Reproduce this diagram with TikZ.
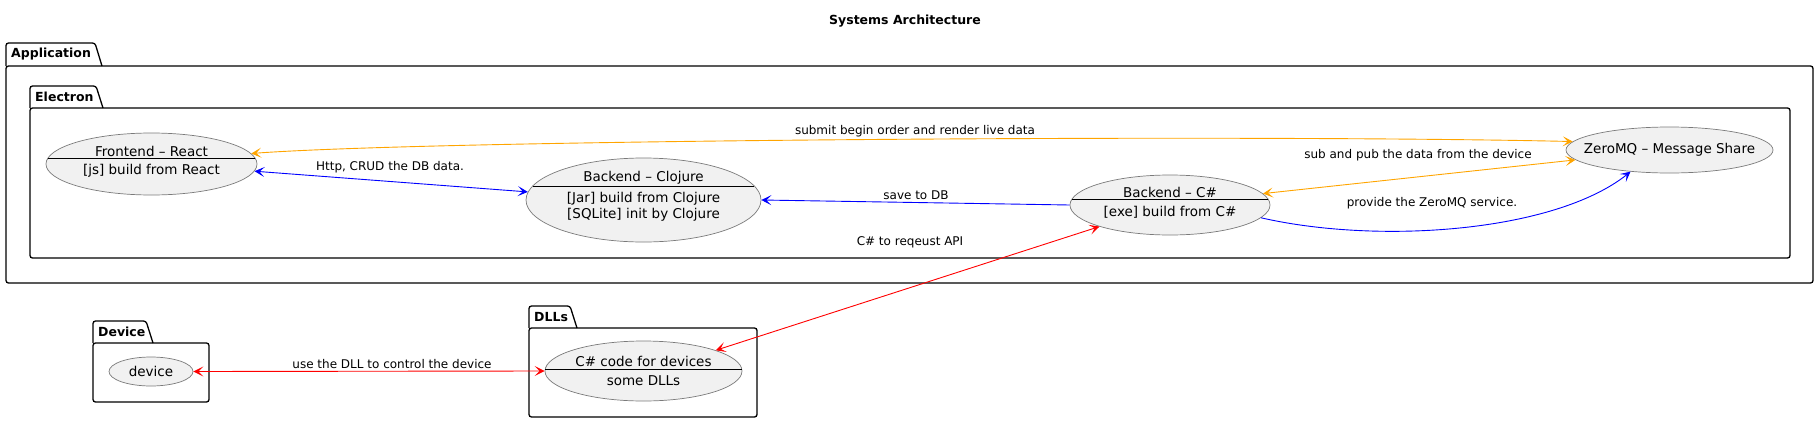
\documentclass[tikz,border=0pt]{standalone}
\usepackage{fontspec}
\setmainfont{DejaVu Sans}
\usetikzlibrary{arrows.meta,bending,positioning,calc,shapes.geometric}
\definecolor{ucfill}{HTML}{F1F1F1}
\definecolor{ucborder}{HTML}{7A7A7A}
\definecolor{linkorange}{HTML}{FFA500}
\definecolor{linkblue}{HTML}{0000FF}
\definecolor{linkred}{HTML}{FF0000}

% package frame: name, left, tab top, tab right, box top, right, bottom, title
\newcommand{\umlpkg}[8]{%
  \draw[pkgline] (#2,#5) -- (#2,#3) -- (#4,#3) -- (#4+7,#5);
  \draw[pkgline] (#2,#5) rectangle (#6,#7);
  \node (#1) [pkgtitle] at (#2+5,{(#3+#5)/2}) {#8};
}

\begin{document}
\begin{tikzpicture}[x=1pt,y=-1pt,
    umltip/.tip={Stealth[length=10pt,width=10pt,inset=5pt]},
    pkgline/.style={line width=1.3pt, rounded corners=2.5pt},
    pkgtitle/.style={anchor=west, inner sep=0pt, font=\bfseries\fontsize{12.5}{14}\selectfont},
    usecase/.style={ellipse, draw=ucborder, fill=ucfill, line width=0.7pt, inner sep=0pt},
    uctext/.style={inner sep=0pt, align=center, font=\fontsize{13.5}{16}\selectfont},
    sepline/.style={line width=1pt},
    link/.style={line width=0.9pt, umltip-umltip},
    oneway/.style={line width=0.9pt, -umltip},
    linklabel/.style={inner sep=0pt, font=\fontsize{12}{14}\selectfont}]
    \useasboundingbox (0,0) rectangle (1819,423);

    \node (title) [inner sep=0pt, font=\bfseries\fontsize{12.5}{14}\selectfont] at (905,21) {Systems Architecture};

    % packages
    \umlpkg{app}{6}{43}{95}{66}{1813}{283}{Application}
    \umlpkg{electron}{30}{86}{96}{108}{1790}{258}{Electron}
    \umlpkg{devpkg}{93}{321}{146}{343}{209}{402}{Device}
    \umlpkg{dllpkg}{529}{306}{570}{328}{757}{417}{DLLs}

    % use cases
    \node (fe) [usecase, minimum width=211pt, minimum height=62pt] at (151.5,164) {};
    \draw[sepline] ($(fe)+(-103.5,-6)$) -- ($(fe)+(103.5,-6)$);
    \node (fe-title) [uctext] at ($(fe)+(0,-13)$) {Frontend – React};
    \node (fe-body) [uctext] at ($(fe)+(0,7)$) {[js] build from React};

    \node (cl) [usecase, minimum width=235pt, minimum height=84pt] at (643.5,200) {};
    \draw[sepline] ($(cl)+(-110.8,-14)$) -- ($(cl)+(110.8,-14)$);
    \node (cl-title) [uctext] at ($(cl)+(0,-22)$) {Backend – Clojure};
    \node (cl-body) [uctext] at ($(cl)+(0,7)$) {[Jar] build from Clojure\\{}[SQLite] init by Clojure};

    \node (cs) [usecase, minimum width=200pt, minimum height=60pt] at (1170,205) {};
    \draw[sepline] ($(cs)+(-98,-6)$) -- ($(cs)+(98,-6)$);
    \node (cs-title) [uctext] at ($(cs)+(0,-13)$) {Backend – C\#};
    \node (cs-body) [uctext] at ($(cs)+(0,7)$) {[exe] build from C\#};

    \node (zmq) [usecase, minimum width=207pt, minimum height=46pt] at (1669.5,150) {};
    \node (zmq-title) [uctext] at (zmq) {ZeroMQ – Message Share};

    \node (dev) [usecase, minimum width=84pt, minimum height=29pt] at (151,371.5) {};
    \node (dev-title) [uctext] at (dev) {device};

    \node (dll) [usecase, minimum width=197pt, minimum height=60pt] at (643.5,371) {};
    \draw[sepline] ($(dll)+(-98.4,-2)$) -- ($(dll)+(98.4,-2)$);
    \node (dll-title) [uctext] at ($(dll)+(0,-10)$) {C\# code for devices};
    \node (dll-body) [uctext] at ($(dll)+(0,10)$) {some DLLs};

    % links
    \draw[link, linkorange] (fe.6) .. controls (420,140) and (1250,134) .. (zmq.175);
    \draw[link, linkblue] (fe.-4.5) -- (cl.176);
    \draw[oneway, linkblue] (cs.west) -- (cl.east);
    \draw[link, linkorange] (cs.7.4) -- (zmq.186);
    \draw[oneway, linkblue] (cs.-8) .. controls (1380,245) and (1560,232) .. (zmq.209);
    \draw[link, linkred] (cs.197.4) -- (dll.16.8);
    \draw[link, linkred] (dev.east) -- (dll.west);

    % link labels
    \node (lbl-submit) [linklabel] at (915,131) {submit begin order and render live data};
    \node (lbl-http) [linklabel] at (390,167) {Http, CRUD the DB data.};
    \node (lbl-save) [linklabel] at (916,195) {save to DB};
    \node (lbl-sub) [linklabel] at (1418,155) {sub and pub the data from the device};
    \node (lbl-provide) [linklabel] at (1432,203) {provide the ZeroMQ service.};
    \node (lbl-api) [linklabel] at (910,242) {C\# to reqeust API};
    \node (lbl-dll) [linklabel] at (392,364) {use the DLL to control the device};
\end{tikzpicture}
\end{document}
